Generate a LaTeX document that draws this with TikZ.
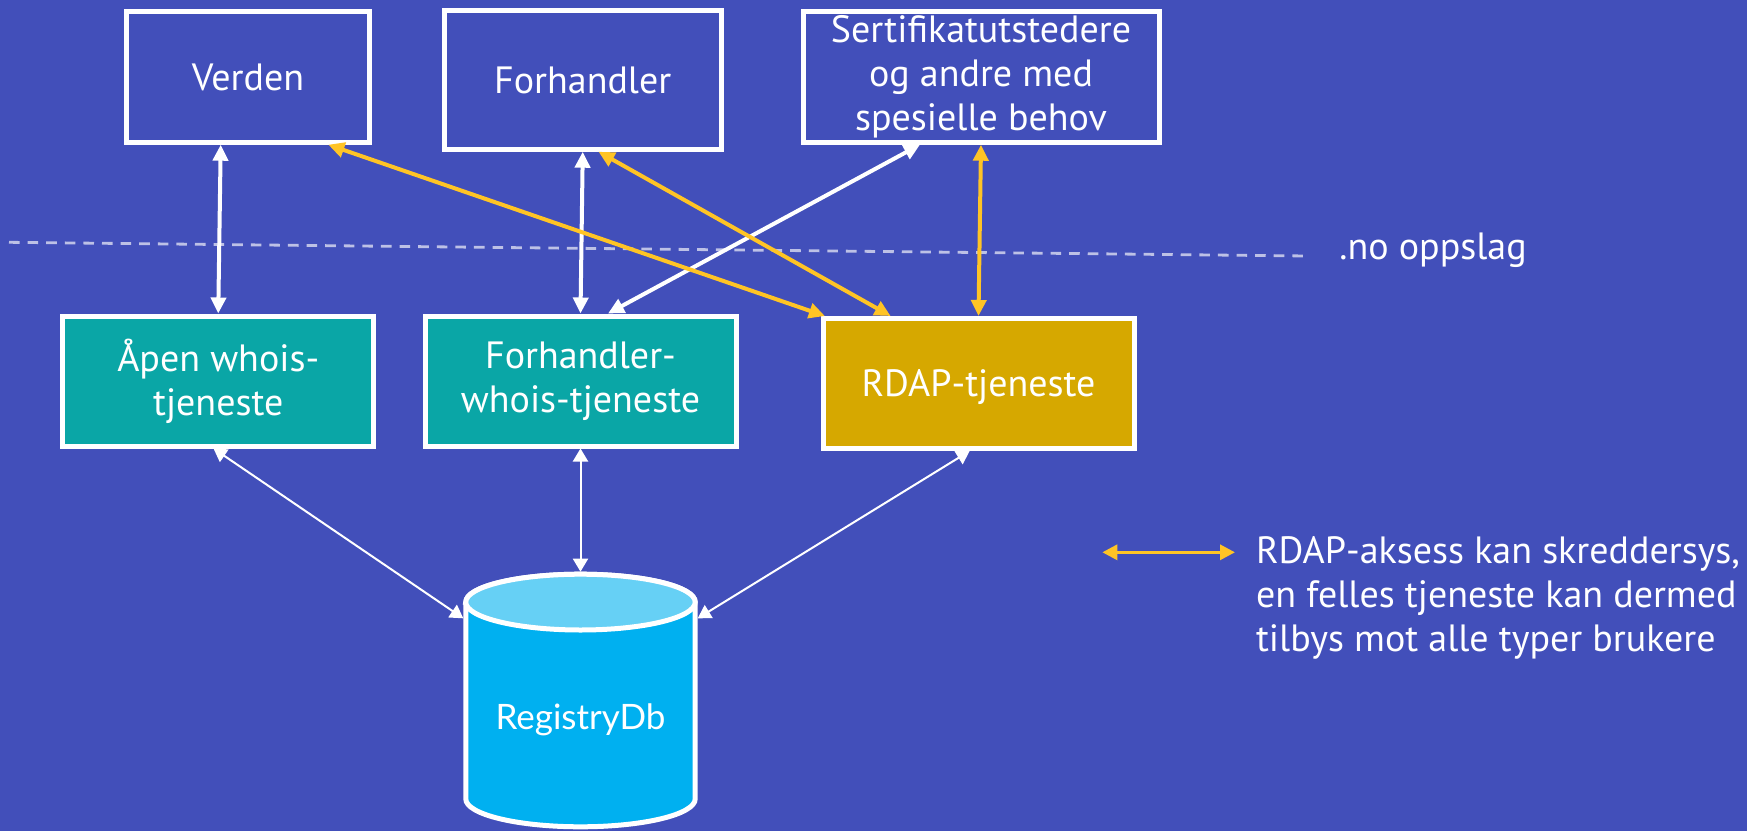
\documentclass[tikz,border=0pt]{standalone}
\usepackage{fontspec}
\setmainfont{PT Sans}
\newfontfamily\dbfont{Lato}
\usetikzlibrary{arrows.meta,calc}

\definecolor{bgblue}{RGB}{66,79,186}
\definecolor{tealbox}{RGB}{10,166,166}
\definecolor{goldbox}{RGB}{214,168,0}
\definecolor{linkgold}{RGB}{255,196,37}
\definecolor{dbbody}{RGB}{0,176,240}
\definecolor{dbtop}{RGB}{102,208,245}

\begin{document}
\begin{tikzpicture}[
  x=0.5pt, y=-0.5pt,
  labelfont/.style={font=\fontsize{19pt}{22pt}\selectfont},
  box/.style={draw=white, line width=2.5pt, inner sep=0pt, text=white,
    labelfont, align=center},
  onerow/.style={text height=13.3pt, text depth=0pt},
  userbox/.style={box, fill=bgblue},
  svcbox/.style={box, fill=tealbox, minimum width=155.5pt, minimum height=65pt},
  thicklink/.style={line width=2pt,
    arrows={Triangle[length=8pt,width=7.5pt]-Triangle[length=8pt,width=7.5pt]}},
  whitelink/.style={thicklink, draw=white},
  goldlink/.style={thicklink, draw=linkgold},
  dblink/.style={draw=white, line width=1pt,
    arrows={Triangle[length=6.5pt,width=7.5pt]-Triangle[length=6.5pt,width=7.5pt]}},
  keylink/.style={draw=linkgold, line width=1.6pt,
    arrows={Triangle[length=7.5pt,width=7.5pt]-Triangle[length=7.5pt,width=7.5pt]}},
  cutline/.style={draw=white, draw opacity=0.65, line width=1.4pt,
    dash pattern=on 5.3pt off 4pt},
]
\useasboundingbox (0,0) rectangle (1747,831);
\fill[bgblue] (0,0) rectangle (1747,831);

% boundary of the .no lookup
\coordinate (cutL) at (9,242.3);
\coordinate (cutR) at (1308,256);
\draw[cutline] (cutL) -- (cutR);
\node[anchor=base west, inner sep=0pt, text=white, labelfont] (cutlabel) at (1339,259) {.no oppslag};

% users
\node[userbox, onerow, minimum width=121.5pt, minimum height=65.2pt] (verden) at (248,77) {Verden};
\node[userbox, onerow, minimum width=138.25pt, minimum height=69.2pt] (forh) at (582.75,80) {Forhandler};
\node[userbox, minimum width=178pt, minimum height=65.2pt] (sert) at (981,77)
  {Sertifikatutstedere\\og andre med\\spesielle behov};

% services
\node[svcbox] (apen) at (218.25,381) {Åpen whois-\\tjeneste};
\node[svcbox] (fwhois) at (580.5,381) {Forhandler-\\whois-tjeneste};
\node[svcbox, onerow, fill=goldbox] (rdap) at (978.5,383.5) {RDAP-tjeneste};

% database cylinder
\path[fill=dbbody, draw=white, line width=2.5pt]
  (465.8,602.1) -- (465.8,798.9)
  arc[start angle=180, end angle=360, x radius=57.35pt, y radius=13.95pt]
  -- (695.2,602.1)
  arc[start angle=0, end angle=180, x radius=57.35pt, y radius=13.95pt] -- cycle;
\path[fill=dbtop, draw=white, line width=2.5pt]
  (580.5,602.1) ellipse [x radius=57.35pt, y radius=13.95pt];
\node[minimum width=117.2pt, minimum height=128.8pt, inner sep=0pt, outer sep=0pt] (db) at (580.5,700.5) {};
\node[anchor=base, inner sep=0pt, text=white, font=\dbfont\fontsize{17.5pt}{22pt}\selectfont] (dblabel) at (580.5,729.3) {RegistryDb};

% user <-> service links
\draw[whitelink] ($(verden.south west)!0.39!(verden.south east)$) -- (apen.north);
\draw[whitelink] (forh.south) -- (fwhois.north);
\draw[whitelink] ($(sert.south west)!0.331!(sert.south east)$) -- ($(fwhois.north west)!0.587!(fwhois.north east)$);
\draw[goldlink] ($(verden.south west)!0.824!(verden.south east)$) -- ($(rdap.north west)!0.014!(rdap.north east)$);
\draw[goldlink] ($(forh.south west)!0.556!(forh.south east)$) -- ($(rdap.north west)!0.222!(rdap.north east)$);
\draw[goldlink] (sert.south) -- (rdap.north);

% service <-> database links
\draw[dblink] ($(apen.south west)!0.485!(apen.south east)$) -- ($(db.north west)!0.181!(db.south west)$);
\draw[dblink] (fwhois.south) -- (db.north);
\draw[dblink] ($(rdap.south west)!0.472!(rdap.south east)$) -- ($(db.north east)!0.181!(db.south east)$);

% key
\coordinate (keyA) at (1102.3,552.3);
\coordinate (keyB) at (1235,552.3);
\draw[keylink] (keyA) -- (keyB);
\node[anchor=north west, inner sep=0pt, align=left, text=white, labelfont] (keytext) at (1255.7,536.2)
  {RDAP-aksess kan skreddersys,\\en felles tjeneste kan dermed\\tilbys mot alle typer brukere};
\end{tikzpicture}
\end{document}
